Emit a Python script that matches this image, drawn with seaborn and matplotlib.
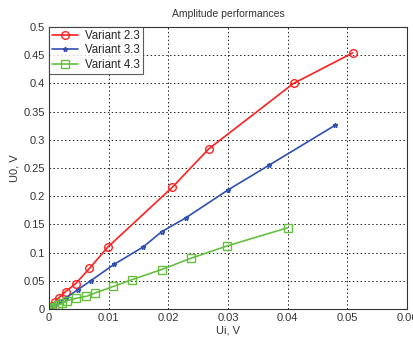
import pandas as pd
import matplotlib
matplotlib.use('Agg')
import matplotlib.pyplot as plt
import seaborn as sns

ui_23 = [0.0005, 0.001, 0.0017, 0.0028, 0.0045, 0.0068, 0.0099, 0.0207, 0.0268, 0.041, 0.0509]
uo_23 = [0.005, 0.012, 0.020, 0.031, 0.045, 0.072, 0.110, 0.216, 0.284, 0.400, 0.454]

ui_33 = [0.0003, 0.0009, 0.0017, 0.0028, 0.0048, 0.0070, 0.0109, 0.0158, 0.0189, 0.0230, 0.0300, 0.0369, 0.0480]
uo_33 = [0.002, 0.006, 0.012, 0.019, 0.034, 0.050, 0.079, 0.110, 0.137, 0.162, 0.211, 0.255, 0.326]

ui_43 = [0.0, 0.0003, 0.0008, 0.0015, 0.0022, 0.0031, 0.0046, 0.0063, 0.0078, 0.0108, 0.0139, 0.0189, 0.0238, 0.0299, 0.0400]
uo_43 = [0.0, 0.002, 0.004, 0.007, 0.010, 0.0148, 0.019, 0.0225, 0.0286, 0.040, 0.052, 0.070, 0.090, 0.112, 0.144]

series = [
    ('Variant 2.3', ui_23, uo_23, '#ff2020', 'o', 5.5),
    ('Variant 3.3', ui_33, uo_33, '#3050b0', '*', 3.5),
    ('Variant 4.3', ui_43, uo_43, '#66c040', 's', 5.5),
]

sns.set_theme(style='white')
plt.rcParams['font.family'] = ['Liberation Sans', 'DejaVu Sans']

fig = plt.figure(figsize=(4.14, 3.37), dpi=100)
ax = fig.add_axes([0.118, 0.083, 0.865, 0.837])

for name, x, y, color, marker, ms in series:
    df = pd.DataFrame({'Ui': x, 'Uo': y})
    sns.lineplot(data=df, x='Ui', y='Uo', ax=ax, color=color, marker=marker,
                 markersize=ms, markerfacecolor='none', markeredgecolor=color,
                 markeredgewidth=1.0, linewidth=1.2, label=name, sort=False)

ax.set_xlim(0, 0.06)
ax.set_ylim(0, 0.5)
ax.set_xticks([0, 0.01, 0.02, 0.03, 0.04, 0.05, 0.06])
ax.set_xticklabels(['0', '0.01', '0.02', '0.03', '0.04', '0.05', '0.06'])
ax.set_yticks([0, 0.05, 0.1, 0.15, 0.2, 0.25, 0.3, 0.35, 0.4, 0.45, 0.5])
ax.set_yticklabels(['0', '0.05', '0.1', '0.15', '0.2', '0.25', '0.3', '0.35', '0.4', '0.45', '0.5'])
ax.tick_params(labelsize=8, colors='#333333', length=0, pad=3)
ax.grid(True, color='#222222', linestyle=(0, (1.5, 2.5)), linewidth=0.7)
for s in ax.spines.values():
    s.set_color('#333333')
    s.set_linewidth(0.8)

ax.set_title('Amplitude performances', fontsize=7.5, color='#333333', pad=7)
ax.set_xlabel('Ui, V', fontsize=8, color='#333333', labelpad=2)
ax.set_ylabel('U0, V', fontsize=8, color='#333333', labelpad=3)

leg = ax.legend(loc='upper left', fontsize=8.3, frameon=True, fancybox=False,
                borderpad=0.25, handlelength=2.3, handletextpad=0.6,
                labelspacing=0.22, borderaxespad=0.0)
leg.get_frame().set_edgecolor('#333333')
leg.get_frame().set_linewidth(0.8)

fig.savefig('out.png', dpi=100)
